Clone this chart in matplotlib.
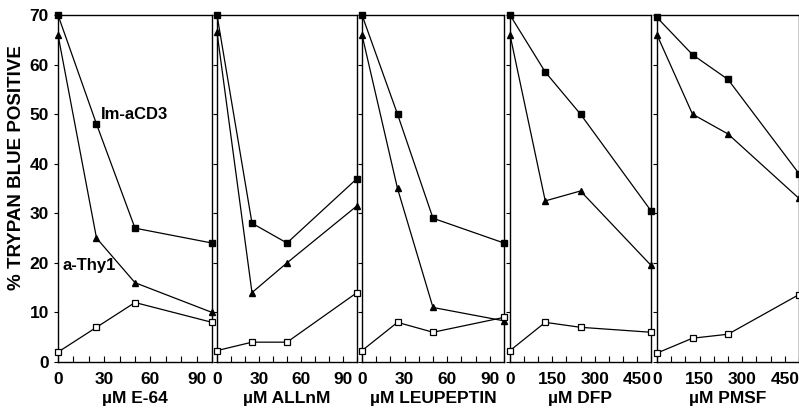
import matplotlib
matplotlib.use("Agg")
import matplotlib.pyplot as plt

plt.rcParams['font.family'] = ['Liberation Sans', 'DejaVu Sans']
plt.rcParams['font.weight'] = 'bold'

# ---- data ----
x_low = [0, 25, 50, 100]      # E-64, ALLnM, LEUPEPTIN (uM)
x_high = [0, 125, 250, 500]   # DFP, PMSF (uM)

panels = ["µM E-64", "µM ALLnM", "µM LEUPEPTIN", "µM DFP", "µM PMSF"]

im_acd3 = [
    [70, 48, 27, 24],
    [70, 28, 24, 37],
    [70, 50, 29, 24],
    [70, 58.5, 50, 30.5],
    [69.5, 62, 57, 38],
]
a_thy1 = [
    [66, 25, 16, 10],
    [66.5, 14, 20, 31.5],
    [66, 35, 11, 8.3],
    [66, 32.5, 34.5, 19.5],
    [66, 50, 46, 33],
]
control = [
    [2, 7, 12, 8],
    [2.3, 4, 4, 14],
    [2.3, 8, 6, 9],
    [2.3, 8, 7, 6],
    [1.8, 4.8, 5.6, 13.6],
]

xs = [x_low, x_low, x_low, x_high, x_high]
xmax = [100, 100, 100, 500, 500]
xtick_labels = [["0", "30", "60", "90"], ["0", "30", "60", "90"], ["0", "30", "60", "90"],
                ["0", "150", "300", "450"], ["0", "150", "300", "450"]]
xtick_vals = [[0, 30, 60, 90], [0, 30, 60, 90], [0, 30, 60, 90],
              [0, 150, 300, 450], [0, 150, 300, 450]]
yticks = [0, 10, 20, 30, 40, 50, 60, 70]

W, H = 799, 415
fig = plt.figure(figsize=(W / 100, H / 100), dpi=100)

lefts = [58, 217, 362, 510, 657]
widths = [154, 140, 142, 141, 142]
bottom_px, top_px = 362, 15

for i in range(5):
    ax = fig.add_axes([lefts[i] / W, (H - bottom_px) / H, widths[i] / W, (bottom_px - top_px) / H])
    x = xs[i]
    kw = dict(color='black', lw=0.9, markersize=5, clip_on=False, zorder=3)
    ax.plot(x, im_acd3[i], marker='s', mfc='black', mec='black', **kw)
    ax.plot(x, a_thy1[i], marker='^', mfc='black', mec='black', **kw)
    ax.plot(x, control[i], marker='s', mfc='white', mec='black', mew=0.9, **kw)
    ax.set_xlim(0, xmax[i])
    ax.set_ylim(0, 70)
    ax.set_xticks([xmax[i] / 10 * k for k in range(11)], minor=True)
    ax.set_xticks(xtick_vals[i])
    ax.set_xticklabels(xtick_labels[i], fontsize=12.5, fontweight='heavy')
    ax.set_yticks(yticks)
    ax.tick_params(axis='x', which='both', direction='in', length=4, width=0.8, pad=7)
    ax.tick_params(axis='y', direction='out', length=3, width=0.8)
    if i == 0:
        ax.set_yticklabels([str(v) for v in yticks], fontsize=12.5, fontweight='heavy')
        ax.set_ylabel("% TRYPAN BLUE POSITIVE", fontsize=13.5, fontweight='heavy', labelpad=3)
        ax.yaxis.set_label_coords(-0.215, 0.56)
        ax.text(28, 50, "Im-aCD3", fontsize=12, fontweight='heavy', va='center', ha='left')
        ax.text(3, 19.5, "a-Thy1", fontsize=12, fontweight='heavy', va='center', ha='left')
    else:
        ax.set_yticklabels([])
    ax.set_xlabel(panels[i], fontsize=12.5, fontweight='heavy', labelpad=3)
    for s in ax.spines.values():
        s.set_linewidth(1.0)

fig.savefig("out.png", dpi=100)
